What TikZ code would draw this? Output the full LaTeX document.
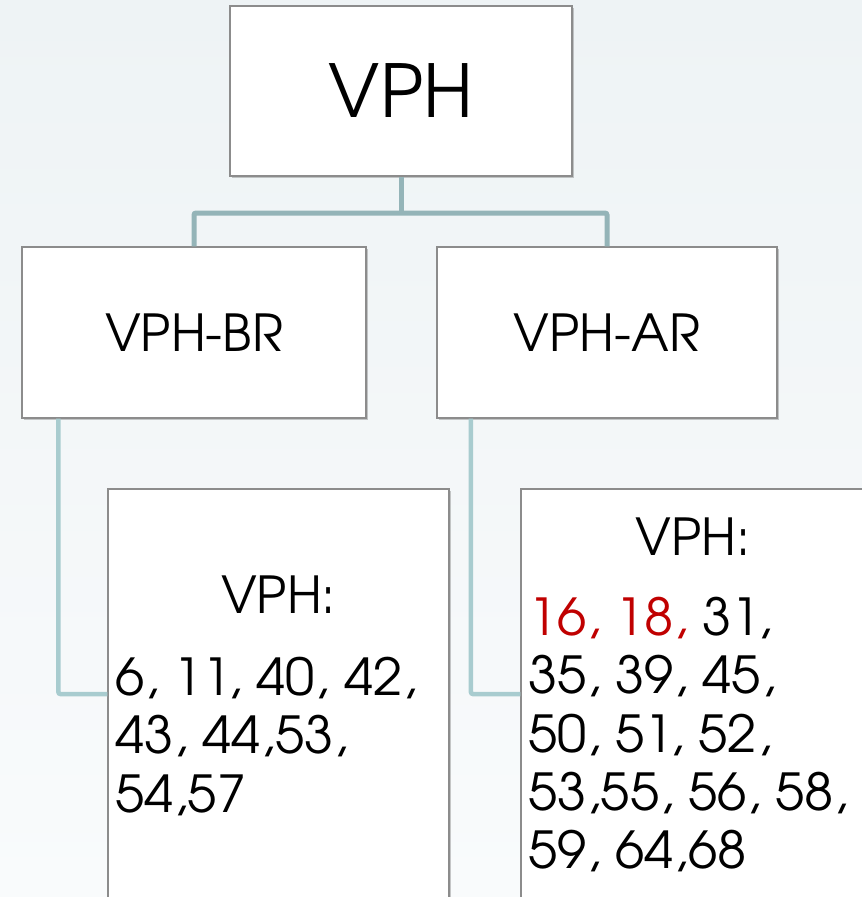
\documentclass[tikz,border=0pt]{standalone}
\usepackage{fontspec}
\setmainfont{texgyreadventor-regular.otf}
\newfontfamily\numfont{texgyreadventor-regular.otf}[FakeStretch=1.03]
\usetikzlibrary{shadows,calc}
\definecolor{bgtop}{HTML}{EEF3F5}
\definecolor{bgbot}{HTML}{F9FBFC}
\definecolor{connA}{HTML}{94B4B8}
\definecolor{connB}{HTML}{A8CCCF}
\definecolor{boxline}{HTML}{8C8C8C}
\definecolor{hired}{HTML}{C00000}
\tikzset{
  box/.style={draw=boxline, line width=1.2pt, fill=white, inner sep=0pt,
    drop shadow={shadow xshift=1.5pt, shadow yshift=-2pt, opacity=0.35, fill=black!60}},
  bigtxt/.style={inner sep=0pt, font=\fontsize{73}{80}\selectfont},
  midtxt/.style={inner sep=0pt, font=\fontsize{51}{58}\selectfont},
  numline/.style={inner sep=0pt, anchor=base west, font=\numfont\fontsize{51}{58}\selectfont},
  headline/.style={inner sep=0pt, anchor=base, font=\fontsize{51}{58}\selectfont},
  connupper/.style={draw=connA, line width=5pt, rounded corners=2pt},
  connlower/.style={draw=connB, line width=4.5pt, rounded corners=2pt},
}
\begin{document}
\begin{tikzpicture}[x=1pt,y=-1pt]
\useasboundingbox (0,0) rectangle (862,897);
\clip (0,0) rectangle (862,897);
\shade[top color=bgtop, bottom color=bgbot] (0,0) rectangle (862,897);
% boxes
\node[box, minimum width=342pt, minimum height=170pt] (top) at (401,91) {};
\node[box, minimum width=344pt, minimum height=171pt] (br) at (194,332.5) {};
\node[box, minimum width=340pt, minimum height=171pt] (ar) at (607,332.5) {};
\node[box, minimum width=341pt, minimum height=410pt] (lb) at (278.5,694) {};
\node[box, minimum width=344pt, minimum height=410pt] (rb) at (693,694) {};
% connectors
\coordinate (junc) at (401,213);
\draw[connupper] (top.south) -- (junc);
\draw[connupper] (br.north) |- (junc) -| (ar.north);
\draw[connlower] ($(br.south west)+(37,0)$) |- (lb.west);
\draw[connlower] ($(ar.south west)+(34.5,0)$) |- (rb.west);
% texts
\node[bigtxt] (ttop) at (top.center) {VPH};
\node[midtxt] (tbr) at (br.center) {VPH-BR};
\node[midtxt] (tar) at (ar.center) {VPH-AR};
\node[headline] (lh) at (278.5,613) {VPH:};
\node[numline] (l1) at (115,695) {6, 11, 40, 42,};
\node[numline] (l2) at (115,753) {43, 44,53,};
\node[numline] (l3) at (115,812) {54,57};
\node[headline] (rh) at (693,555) {VPH:};
\node[numline] (r1) at (528,635) {\textcolor{hired}{16, 18,} 31,};
\node[numline] (r2) at (528,693) {35, 39, 45,};
\node[numline] (r3) at (528,752) {50, 51, 52,};
\node[numline] (r4) at (528,810) {53,55, 56, 58,};
\node[numline] (r5) at (528,868) {59, 64,68};
\end{tikzpicture}
\end{document}
